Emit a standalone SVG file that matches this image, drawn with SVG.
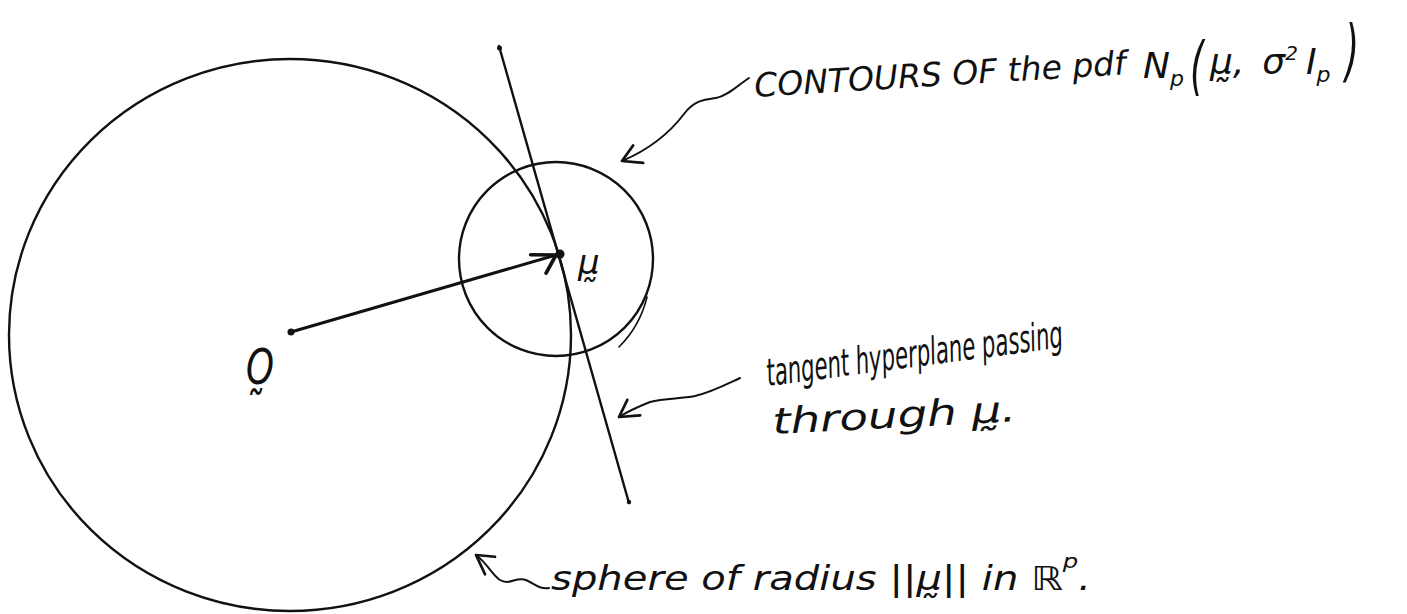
<svg xmlns="http://www.w3.org/2000/svg" width="1407" height="614" viewBox="0 0 1407 614">
<style>
.ink{fill:none;stroke:#111;stroke-linecap:round;stroke-linejoin:round}
.hand{font-family:"DejaVu Sans","Liberation Sans",sans-serif;font-style:oblique;fill:#111}
</style>
<defs>
<marker id="open" markerUnits="userSpaceOnUse" markerWidth="30" markerHeight="30" refX="0" refY="0" viewBox="-20 -12 24 24" orient="auto">
<path d="M-15,-8 L0,0 L-13,8" fill="none" stroke="#111" stroke-width="2.2" stroke-linecap="round" stroke-linejoin="round"/>
</marker>
<marker id="vec" markerUnits="userSpaceOnUse" markerWidth="34" markerHeight="34" refX="0" refY="0" viewBox="-24 -14 28 28" orient="auto">
<path d="M-20,-6 L0,0 L-12,12" fill="none" stroke="#111" stroke-width="3" stroke-linecap="round" stroke-linejoin="round"/>
</marker>
</defs>
<rect width="1407" height="614" fill="#fff"/>

<g id="sphere">
<ellipse class="ink" cx="290" cy="335" rx="281" ry="276" stroke-width="2.4"/>
</g>

<g id="contour-circle">
<circle class="ink" cx="556" cy="259" r="97" stroke-width="2.4"/>
<path class="ink" d="M647,297 Q640,326 619,347" stroke-width="1.6"/>
</g>

<g id="tangent-hyperplane">
<line class="ink" x1="499" y1="46" x2="629" y2="503" stroke-width="2.4"/>
<circle cx="499.5" cy="48" r="2.5" fill="#111"/>
<circle cx="629" cy="502" r="2.2" fill="#111"/>
</g>

<g id="origin">
<circle cx="291" cy="332" r="3.5" fill="#111"/>
<text class="hand" x="246" y="384" font-size="50" textLength="28" lengthAdjust="spacingAndGlyphs">O̰</text>
</g>

<g id="mean">
<circle cx="560" cy="254" r="4.5" fill="#111"/>
<text class="hand" x="578" y="274" font-size="34">μ̰</text>
</g>

<g id="connectors">
<path class="ink" d="M291,332 L556,255" stroke-width="3" marker-end="url(#vec)"/>
<path class="ink" d="M749,78 C738,85 728,96 716,98 C702,100 694,101 684,114 C668,135 648,150 622,161" stroke-width="2" marker-end="url(#open)"/>
<path class="ink" d="M740,378 C725,385 712,392 695,396 C680,399 665,398 650,402 C640,406 630,410 619,417" stroke-width="2" marker-end="url(#open)"/>
<path class="ink" d="M549,588 C540,590 533,583 526,580 C516,576 510,586 500,580 C492,575 488,564 476,555" stroke-width="2" marker-end="url(#open)"/>
</g>

<g id="label-contours">
<text class="hand" x="755" y="97" font-size="33" transform="rotate(-3.5 755 97)" textLength="372" lengthAdjust="spacingAndGlyphs">CONTOURS OF the pdf</text>
<text class="hand" x="1143" y="78" font-size="36">N<tspan font-size="22" dy="8">p</tspan></text>
<text class="hand" font-size="36" transform="translate(1190 88) scale(1 1.8)">(</text>
<text class="hand" x="1210" y="74" font-size="36">μ̰,<tspan dx="18">σ</tspan><tspan font-size="20" dy="-14">2</tspan><tspan dx="8" dy="14">I</tspan><tspan font-size="22" dy="8">p</tspan></text>
<text class="hand" font-size="36" transform="translate(1345 74) scale(1 1.9)">)</text>
</g>

<g id="label-tangent">
<text class="hand" font-size="38" transform="translate(768 386) rotate(-7.5) scale(0.56 1)">tangent hyperplane passing</text>
<text class="hand" x="773" y="434" font-size="36" transform="rotate(-3 773 434)" textLength="244" lengthAdjust="spacingAndGlyphs">through  μ̰.</text>
</g>

<g id="label-sphere">
<text class="hand" x="551" y="590" font-size="33" textLength="540" lengthAdjust="spacingAndGlyphs">sphere of radius ||μ̰|| in ℝ<tspan font-size="20" dy="-22">p</tspan><tspan dy="22">.</tspan></text>
</g>
</svg>
